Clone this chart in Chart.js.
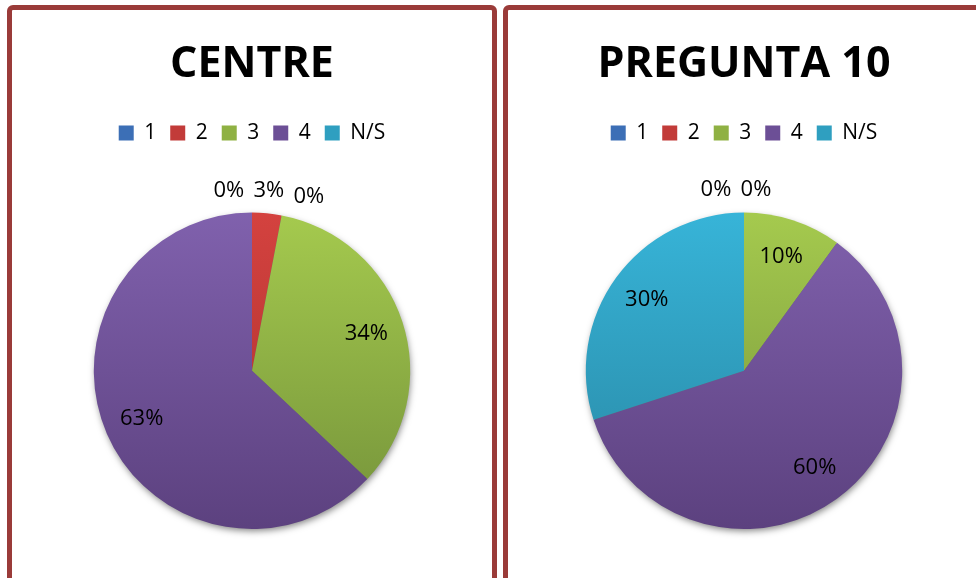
<!DOCTYPE html>
<html>
<head>
<meta charset="utf-8">
<script src="https://cdn.jsdelivr.net/npm/chart.js@4.4.1/dist/chart.umd.min.js"></script>
<style>
  html, body { margin: 0; padding: 0; background: #fff; overflow: hidden; }
  body { width: 976px; height: 578px; position: relative; }
  .panel {
    position: absolute; top: 5px; height: 600px;
    border: 5px solid #9a3b39; border-radius: 6px; background: #fff;
  }
  .panel canvas { position: absolute; left: 0; top: 0; }
</style>
</head>
<body>
<div class="panel" style="left:7px;width:480px;"><canvas id="chartCentre" width="480" height="560"></canvas></div>
<div class="panel" style="left:503px;width:472px;"><canvas id="chartP10" width="472" height="560"></canvas></div>

<script>
// Data
const categories = ["1", "2", "3", "4", "N/S"];
const centreValues = [0, 3, 34, 63, 0];
const pregunta10Values = [0, 0, 10, 60, 30];
const chartTitles = ["CENTRE", "PREGUNTA 10"];

// Office-like slice colours (top -> bottom of the pie)
const sliceTop    = ["#4f86cf", "#d4423f", "#a5ca4e", "#8061ad", "#37b4d8"];
const sliceBottom = ["#335e9a", "#a8302e", "#74923a", "#5c417f", "#2886a2"];
const legendColors = ["#3c6fb6", "#c23b39", "#8fb143", "#6c4f96", "#2f9fc0"];

const FONT = "'Open Sans', 'Noto Sans', sans-serif";

function sliceColor(ctx) {
  const i = ctx.dataIndex;
  const chart = ctx.chart;
  const arc = chart.getDatasetMeta(0).data[0];
  if (!arc || !arc.outerRadius) return legendColors[i];
  const { y, outerRadius } = arc.getProps(["y", "outerRadius"], true);
  const g = chart.ctx.createLinearGradient(0, y - outerRadius, 0, y + outerRadius);
  g.addColorStop(0, sliceTop[i]);
  g.addColorStop(1, sliceBottom[i]);
  return g;
}

// extra room between legend and pie
const legendGap = {
  id: "legendGap",
  beforeInit(chart) {
    const fit = chart.legend.fit;
    chart.legend.fit = function () {
      fit.bind(chart.legend)();
      this.height += 59;
    };
  }
};

// soft shadow under the whole pie
const pieShadow = {
  id: "pieShadow",
  beforeDatasetsDraw(chart) {
    const arc = chart.getDatasetMeta(0).data[0];
    if (!arc) return;
    const { x, y, outerRadius } = arc.getProps(["x", "y", "outerRadius"], true);
    const c = chart.ctx;
    c.save();
    c.shadowColor = "rgba(0,0,0,0.5)";
    c.shadowBlur = 7;
    c.shadowOffsetX = 1;
    c.shadowOffsetY = 3;
    c.beginPath();
    c.arc(x, y, outerRadius - 1, 0, Math.PI * 2);
    c.fillStyle = "#666";
    c.fill();
    c.restore();
  }
};

// percent labels: inside for big slices, spread above the pie for tiny ones
const pctLabels = {
  id: "pctLabels",
  afterDatasetsDraw(chart) {
    const data = chart.data.datasets[0].data;
    const total = data.reduce((a, b) => a + b, 0);
    const meta = chart.getDatasetMeta(0);
    const c = chart.ctx;
    c.save();
    c.font = "22px " + FONT;
    c.fillStyle = "#000";
    c.textAlign = "center";
    c.textBaseline = "middle";
    const outside = [];
    meta.data.forEach((arc, i) => {
      const p = arc.getProps(["x", "y", "startAngle", "endAngle", "outerRadius"], true);
      const mid = (p.startAngle + p.endAngle) / 2;
      const pct = data[i] / total * 100;
      const txt = Math.round(pct) + "%";
      if (pct >= 6) {
        const r = p.outerRadius * 0.76;
        c.fillText(txt, p.x + r * Math.cos(mid), p.y + r * Math.sin(mid));
      } else {
        const r = p.outerRadius + 20;
        outside.push({ i, txt, v: data[i], x: p.x + r * Math.cos(mid), y: p.y + r * Math.sin(mid) });
      }
    });
    if (outside.length) {
      const step = 40;
      let anchor = 0;
      outside.forEach((o, k) => { if (o.v > outside[anchor].v) anchor = k; });
      const allEqual = outside.every(o => o.v === outside[0].v);
      let baseX;
      if (allEqual) {
        const mx = outside.reduce((a, o) => a + o.x, 0) / outside.length;
        baseX = mx - step * (outside.length - 1) / 2 - 8;
      } else {
        baseX = outside[anchor].x - step * anchor;
      }
      const y = outside[allEqual ? 0 : anchor].y - 3;
      outside.forEach((o, k) => c.fillText(o.txt, baseX + k * step, y + (k > anchor && !allEqual ? 6 : 0)));
    }
    c.restore();
  }
};

function makePie(id, title, values) {
  return new Chart(document.getElementById(id), {
    type: "pie",
    data: {
      labels: categories,
      datasets: [{ data: values, backgroundColor: sliceColor, borderWidth: 0 }]
    },
    options: {
      responsive: false,
      animation: false,
      layout: { padding: { top: 0, bottom: 41 } },
      plugins: {
        title: {
          display: true, text: title, color: "#000",
          font: { family: FONT, size: 43, weight: "bold" },
          padding: { top: 29, bottom: 18 }
        },
        legend: {
          position: "top",
          labels: {
            color: "#000", boxWidth: 15, boxHeight: 15, padding: 14,
            font: { family: FONT, size: 21 },
            generateLabels: () => categories.map((c, i) => ({
              text: c, fillStyle: legendColors[i], strokeStyle: legendColors[i],
              lineWidth: 0, hidden: false, index: i
            }))
          }
        },
        tooltip: { enabled: false }
      }
    },
    plugins: [legendGap, pieShadow, pctLabels]
  });
}

makePie("chartCentre", chartTitles[0], centreValues);
makePie("chartP10", chartTitles[1], pregunta10Values);
</script>
</body>
</html>
